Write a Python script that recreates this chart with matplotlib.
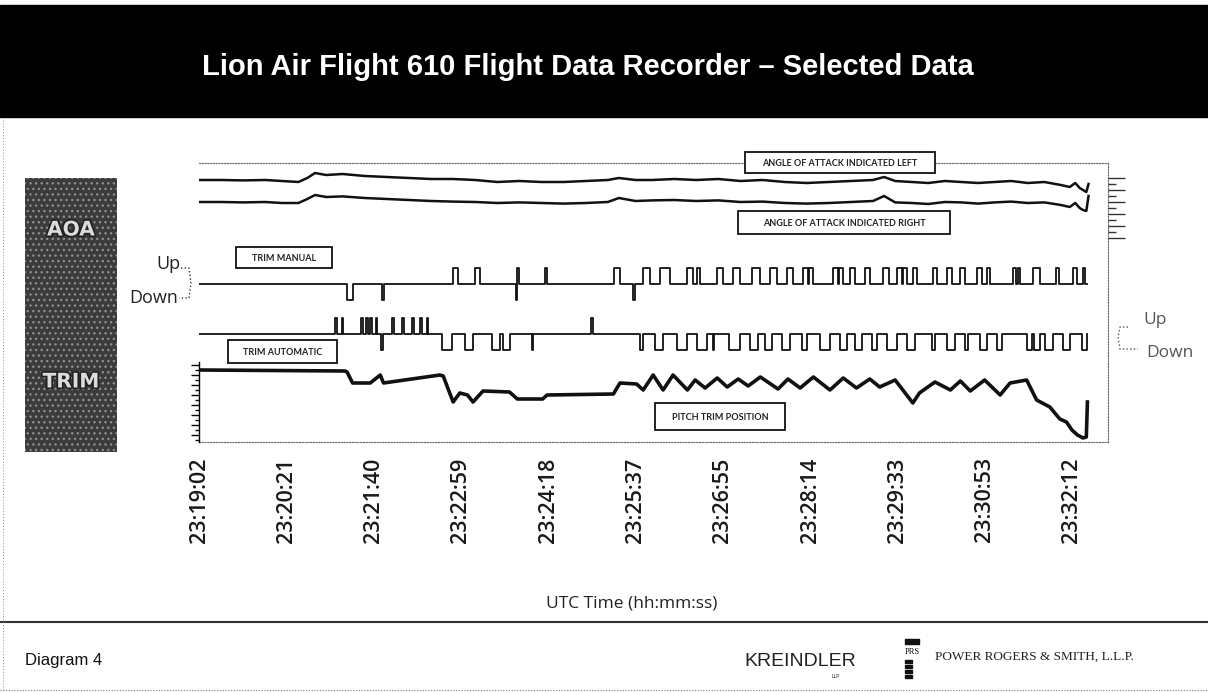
import numpy as np
import matplotlib.pyplot as plt
import matplotlib.patheffects as pe
from matplotlib.patches import Rectangle

# ---- data (time in seconds after 23:19:02) ----
tick_labels = ["23:19:02", "23:20:21", "23:21:40", "23:22:59", "23:24:18", "23:25:37",
               "23:26:55", "23:28:14", "23:29:33", "23:30:53", "23:32:12"]
tick_secs = [0, 79, 158, 237, 316, 395, 474, 553, 632, 711, 790]

aoa_t = [0, 20, 40, 60, 75, 90, 98, 105, 115, 130, 150, 170, 190, 210, 230, 250, 270, 290,
         310, 330, 350, 370, 380, 395, 410, 430, 450, 470, 490, 510, 530, 550, 570, 590,
         610, 620, 630, 645, 660, 675, 690, 705, 720, 735, 750, 765, 780, 788, 793, 797,
         800, 803, 805]
aoa_left = [15, 15, 14.8, 15, 14.5, 14, 16, 18.5, 17.5, 18, 17, 16.5, 16, 15.5, 15.5, 15,
            14, 14.5, 14, 14, 14.5, 15, 16, 15, 15, 15.5, 15, 15.5, 14.5, 15, 14, 13.5, 14,
            14.5, 15, 16.5, 14.5, 14, 13.5, 14.5, 14, 13.5, 14, 14.5, 13.5, 14, 12.5, 11.5,
            13.5, 11, 10, 9, 13]
aoa_right = [4, 4, 3.8, 4, 3.5, 3.5, 5.5, 7.5, 6.5, 6.8, 6, 5.5, 5, 4.5, 4.2, 4, 3.5, 3.8,
             3.5, 3.2, 3.5, 4, 6, 4.5, 4.8, 5, 4.5, 4.8, 4, 4.2, 3.5, 3.2, 3.5, 4, 4.5, 7,
             3.8, 3.5, 3, 4, 3.8, 3.2, 3.8, 4.2, 3.5, 3.8, 2.5, 1.5, 3.5, 1, 0, -0.5, 7]

# manual trim switch activity: +1 = nose up, -1 = nose down
manual_start = [134, 166, 230, 250, 287, 288, 313, 376, 393, 402, 417, 442, 451, 469, 483,
                500, 517, 532, 547, 552, 574, 579, 589, 603, 619, 632, 637, 646, 664, 677,
                689, 704, 713, 737, 741, 755, 776, 791, 800]
manual_end = [139, 167.5, 234, 254, 288, 289.5, 314.5, 381, 395, 408, 426, 447, 453, 474,
              490, 508, 523, 538, 551, 556, 578, 583, 594, 607, 624, 636, 641, 650, 668, 681,
              693, 709, 716, 739.5, 743, 761, 778, 795, 802]
manual_dir = [-1, -1, 1, 1, -1, 1, 1, 1, -1] + [1] * 30

# automatic trim activity
auto_start = [123, 129, 147, 151, 155, 160, 165, 175, 184, 193, 200, 206, 220, 241, 265,
              275, 301, 355, 399, 413, 433, 451, 465, 480, 499, 512, 528, 546, 562, 580,
              594, 609, 623, 641, 663, 677, 693, 707, 722, 749, 756, 766, 782, 799]
auto_end = [124.5, 130.5, 148.5, 152.5, 157, 161.5, 166.5, 176.5, 185.5, 194.5, 201.5,
            207.5, 229, 248, 272, 281, 302.5, 356.5, 402, 420, 442, 460, 466.5, 490, 506,
            519, 535, 550, 571, 586, 600, 614, 632, 648, 666, 684, 696, 713, 727, 754, 761,
            773, 788, 804]
auto_dir = [1] * 6 + [-1] + [1] * 5 + [-1] * 5 + [1] + [-1] * 26

pitch_t = [1, 132, 134, 139, 155, 164, 167, 218, 221, 230, 236, 243, 248, 257, 281, 288,
           311, 315, 375, 381, 396, 402, 411, 420, 429, 442, 449, 458, 469, 478, 488, 497,
           508, 524, 533, 544, 556, 571, 583, 595, 607, 616, 630, 646, 652, 666, 680, 689,
           698, 711, 725, 734, 749, 758, 770, 779, 785, 790, 795, 800, 803, 804]
pitch_trim = [7.5, 7.4, 7.3, 6.2, 6.2, 7.0, 6.2, 7.0, 6.9, 4.3, 5.2, 5.0, 4.3, 5.4, 5.3,
              4.6, 4.6, 5.0, 5.1, 6.2, 6.1, 5.5, 7.0, 5.5, 7.0, 5.5, 6.5, 5.7, 6.7, 5.8,
              6.6, 5.9, 6.8, 5.6, 6.6, 5.7, 6.8, 5.5, 6.7, 5.7, 6.6, 5.8, 6.5, 4.2, 5.2,
              6.3, 5.5, 6.4, 5.4, 6.5, 5.0, 6.2, 6.5, 4.5, 3.8, 2.6, 2.3, 1.5, 1.0, 0.7,
              0.8, 4.3]

# ---- layout helpers (pixel coordinates of the 1208x693 canvas) ----
W, H = 1208, 693
X_LEFT, X_RIGHT = 199, 1108
T_MAX = (X_RIGHT - X_LEFT) / 1.105


def frect(l, t, r, b):
    return [l / W, 1 - b / H, (r - l) / W, (b - t) / H]


def pulse_trace(starts, ends, dirs, t_end):
    xs, ys = [0], [0]
    for a, b, d in zip(starts, ends, dirs):
        xs += [a, a, b, b]
        ys += [0, d, d, 0]
    xs.append(t_end)
    ys.append(0)
    return xs, ys


fig = plt.figure(figsize=(W / 100, H / 100), dpi=100)
fig.patch.set_facecolor("white")
ink = "#111111"

# frame with time axis
ax0 = fig.add_axes(frect(X_LEFT, 163, X_RIGHT, 442))
ax0.set_xlim(0, T_MAX)
ax0.set_ylim(0, 1)
ax0.set_yticks([])
ax0.spines["left"].set_visible(False)
for s in ["top", "bottom", "right"]:
    ax0.spines[s].set_linestyle((0, (1, 1.5)))
    ax0.spines[s].set_linewidth(0.8)
    ax0.spines[s].set_color("#666666")
ax0.set_xticks(tick_secs)
ax0.set_xticklabels(tick_labels, rotation=90, family="Open Sans", fontsize=15.5,
                    fontweight="semibold", color="#1a1a1a")
ax0.tick_params(axis="x", length=0, pad=11)

# AOA
ax_aoa = fig.add_axes(frect(X_LEFT, 165, X_RIGHT, 240))
ax_aoa.set_xlim(0, T_MAX)
ax_aoa.set_ylim(-15, 22.5)
ax_aoa.patch.set_alpha(0)
ax_aoa.plot(aoa_t, aoa_left, color=ink, lw=1.8)
ax_aoa.plot(aoa_t, aoa_right, color=ink, lw=1.8)
for s in ax_aoa.spines.values():
    s.set_visible(False)
ax_aoa.set_xticks([])
ax_aoa.yaxis.tick_right()
ax_aoa.set_yticks([16, 10, 4, -2, -8, -14])
ax_aoa.set_yticks([13, 7, 1, -5, -11], minor=True)
ax_aoa.set_yticklabels([])
ax_aoa.tick_params(axis="y", which="major", direction="out", length=12, width=1,
                   color="#333333", pad=1)
ax_aoa.tick_params(axis="y", which="minor", direction="out", length=6, width=1,
                   color="#333333")

# trim manual
ax_man = fig.add_axes(frect(X_LEFT, 260, X_RIGHT, 306))
mx, my = pulse_trace(manual_start, manual_end, manual_dir, 804)
ax_man.plot(mx, my, color=ink, lw=1.3)
ax_man.set_xlim(0, T_MAX)
ax_man.set_ylim(-1.35, 1.5)
ax_man.axis("off")

# trim automatic
ax_auto = fig.add_axes(frect(X_LEFT, 310, X_RIGHT, 356))
ax_x, ax_y = pulse_trace(auto_start, auto_end, auto_dir, 804)
ax_auto.plot(ax_x, ax_y, color=ink, lw=1.3)
ax_auto.set_xlim(0, T_MAX)
ax_auto.set_ylim(-1.35, 1.5)
ax_auto.axis("off")

# pitch trim position
ax_pt = fig.add_axes(frect(X_LEFT, 362, X_RIGHT, 442))
ax_pt.plot(pitch_t, pitch_trim, color=ink, lw=2.6)
ax_pt.set_xlim(0, T_MAX)
ax_pt.set_ylim(0.3, 8.3)
ax_pt.patch.set_alpha(0)
for s in ["top", "right", "bottom"]:
    ax_pt.spines[s].set_visible(False)
ax_pt.spines["left"].set_linewidth(1)
ax_pt.set_xticks([])
ax_pt.set_yticks(np.arange(1, 8.5, 1))
ax_pt.set_yticks(np.arange(0.5, 8.3, 1), minor=True)
ax_pt.set_yticklabels([])
ax_pt.tick_params(axis="y", which="major", direction="out", length=6, width=1)
ax_pt.tick_params(axis="y", which="minor", direction="out", length=3, width=1)

# ---- overlay: header, side panel, labels, footer ----
ov = fig.add_axes([0, 0, 1, 1])
ov.set_xlim(0, W)
ov.set_ylim(H, 0)
ov.axis("off")

ov.add_patch(Rectangle((0, 5), W, 112, color="black", zorder=1))
ov.text(588, 67, "Lion Air Flight 610 Flight Data Recorder \u2013 Selected Data",
        color="white", fontsize=21, fontweight="bold", ha="center", va="center",
        family="Liberation Sans", zorder=2)

ov.add_patch(Rectangle((25, 178), 92, 274, facecolor="#3b3b3b", edgecolor="#8c8c8c",
                       hatch="...", linewidth=0, zorder=1))
for label, yy in [("AOA", 230), ("TRIM", 382)]:
    ov.text(71, yy, label, color="#dcdcdc", fontsize=14.5, fontweight="bold",
            ha="center", va="center", zorder=3,
            path_effects=[pe.withStroke(linewidth=2.5, foreground="#222222")])

boxes = [
    ("ANGLE OF ATTACK INDICATED LEFT", 745, 152, 935, 173),
    ("ANGLE OF ATTACK INDICATED RIGHT", 738, 211, 950, 234),
    ("TRIM MANUAL", 236, 247, 332, 268),
    ("TRIM AUTOMATIC", 228, 340, 337, 363),
    ("PITCH TRIM POSITION", 655, 403, 785, 430),
]
for txt, l, t, r, b in boxes:
    ov.add_patch(Rectangle((l, t), r - l, b - t, facecolor="white", edgecolor=ink,
                           linewidth=1.3, zorder=4))
    ov.text((l + r) / 2, (t + b) / 2 + 1, txt, fontsize=6.5, fontweight="bold",
            family="Lato", color="#222222", ha="center", va="center", zorder=5)

# Up / Down keys
ov.text(180, 264, "Up", fontsize=13, family="Open Sans", color="#222222",
        ha="right", va="center")
ov.text(178, 298, "Down", fontsize=13, family="Open Sans", color="#222222",
        ha="right", va="center")
ov.plot([181, 189, 191, 189, 179], [268, 268, 283, 298, 298], ls=":", lw=1,
        color="#333333")
ov.text(1143, 320, "Up", fontsize=12.5, family="Open Sans", color="#555555",
        ha="left", va="center")
ov.text(1146, 353, "Down", fontsize=12.5, family="Open Sans", color="#555555",
        ha="left", va="center")
ov.plot([1128, 1120, 1118, 1120, 1138], [327, 327, 337, 349, 349], ls=":", lw=1,
        color="#555555")

ov.text(632, 604, "UTC Time (hh:mm:ss)", fontsize=12.5, family="Open Sans",
        color="#222222", ha="center", va="center")

# footer
ov.plot([0, W], [622, 622], color="#333333", lw=1.5)
ov.plot([0, W], [690, 690], color="#777777", lw=0.8, ls=(0, (1, 1.5)))
ov.plot([3, 3], [120, 690], color="#888888", lw=0.7, ls=(0, (1, 2)))
ov.text(25, 660, "Diagram 4", fontsize=12, family="Liberation Sans", color="#111111",
        ha="left", va="center")
ov.text(800, 662, "KREINDLER", fontsize=14, family="Liberation Sans", color="#222222",
        ha="center", va="center")
ov.text(836, 677, "LLP", fontsize=3.5, family="Liberation Sans", color="#222222",
        ha="center", va="center")
ov.add_patch(Rectangle((905, 639), 14, 5, color="#111111"))
ov.text(912, 652, "PRS", fontsize=6, family="Liberation Serif", color="#111111",
        ha="center", va="center")
for yy in [660, 665, 670, 675]:
    ov.add_patch(Rectangle((905, yy), 7, 3, color="#111111"))
ov.text(935, 657, "POWER ROGERS & SMITH, L.L.P.", fontsize=9.5,
        family="Liberation Serif", color="#222222", ha="left", va="center")

fig.savefig("out.png", dpi=100)
